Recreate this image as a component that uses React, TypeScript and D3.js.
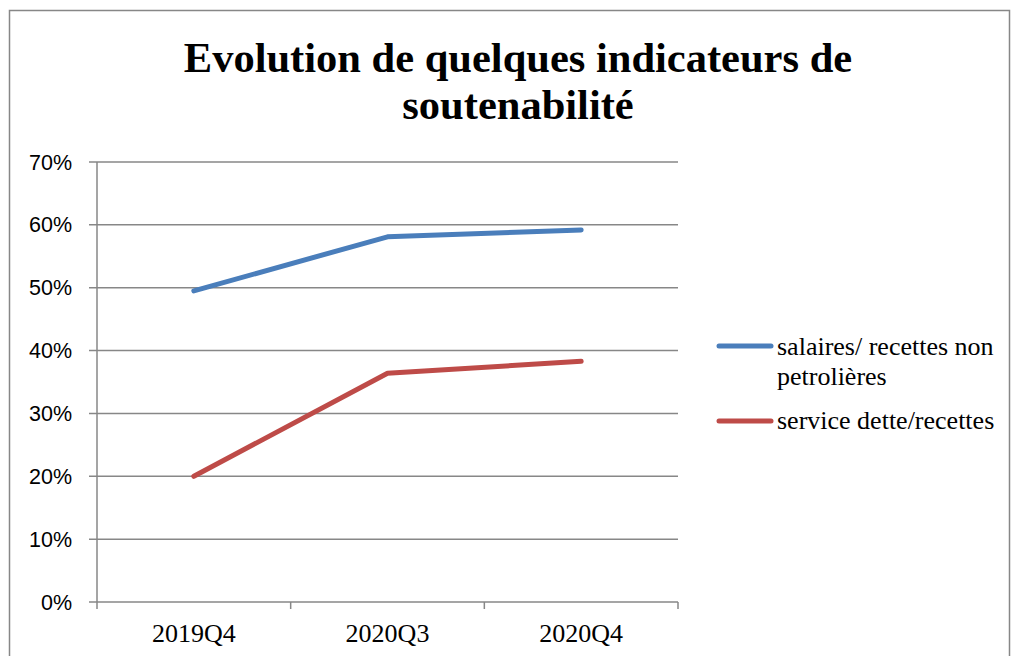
import React from 'react'
import * as d3 from 'd3'

// categories and series
const categories = ['2019Q4', '2020Q3', '2020Q4']
const salaires = [0.495, 0.581, 0.592]
const serviceDette = [0.20, 0.364, 0.383]
const yTicks = [0, 0.1, 0.2, 0.3, 0.4, 0.5, 0.6, 0.7]
const seriesNames = ['salaires/ recettes non petrolières', 'service dette/recettes']

const App = () => {
    const width = 1011
        , height = 656
    const plot = { left: 97, right: 678, top: 162, bottom: 602 }

    const xBand = d3.scaleBand().domain(categories).range([plot.left, plot.right]).padding(0)
    const xScale = (c: string) => (xBand(c) as number) + xBand.bandwidth() / 2
    const yScale = d3.scaleLinear().domain([0, 0.7]).range([plot.bottom, plot.top])

    const line = d3.line<number>()
        .x((d, i) => xScale(categories[i]))
        .y(d => yScale(d))

    const series = [
        { name: seriesNames[0], values: salaires, color: '#4A7EBB' },
        { name: seriesNames[1], values: serviceDette, color: '#BE4B48' },
    ]

    const grid = '#878787'
    const xBoundaries = [...categories.map(c => xBand(c) as number), plot.right]

    return (
        <div style={{ position: 'absolute', left: 0, top: 0 }}>
            <svg width={width} height={height} style={{ display: 'block', background: '#fff' }}>
                {/* outer border */}
                <rect x={9.5} y={10.5} width={1000} height={700} fill="none" stroke={grid} strokeWidth={1.5} />

                {/* title */}
                <text x={518} y={72} textAnchor="middle" fontFamily="'Liberation Serif', 'Times New Roman', serif"
                    fontWeight="bold" fontSize={42.5}>Evolution de quelques indicateurs de</text>
                <text x={518} y={119} textAnchor="middle" fontFamily="'Liberation Serif', 'Times New Roman', serif"
                    fontWeight="bold" fontSize={42.5}>soutenabilité</text>

                {/* gridlines + y axis */}
                {yTicks.map(t => (
                    <g key={t}>
                        <line x1={plot.left - 8} x2={plot.right} y1={yScale(t)} y2={yScale(t)} stroke={grid} strokeWidth={1.5} />
                        <text x={72} y={yScale(t)} dy="0.35em" textAnchor="end"
                            fontFamily="'Liberation Sans', Arial, sans-serif" fontSize={21.5}>{Math.round(t * 100)}%</text>
                    </g>
                ))}
                <line x1={plot.left} x2={plot.left} y1={plot.top} y2={plot.bottom} stroke={grid} strokeWidth={1.5} />

                {/* x axis ticks + labels */}
                {xBoundaries.map((x, i) => (
                    <line key={i} x1={x} x2={x} y1={plot.bottom} y2={plot.bottom + 7} stroke={grid} strokeWidth={1.5} />
                ))}
                {categories.map(c => (
                    <text key={c} x={xScale(c)} y={642} textAnchor="middle"
                        fontFamily="'Liberation Serif', 'Times New Roman', serif" fontSize={26}>{c}</text>
                ))}

                {/* lines */}
                {series.map(s => (
                    <path key={s.name} d={line(s.values) || ''} fill="none" stroke={s.color}
                        strokeWidth={5} strokeLinecap="round" strokeLinejoin="round" />
                ))}

                {/* legend */}
                <line x1={719} x2={771} y1={346} y2={346} stroke={series[0].color} strokeWidth={5} strokeLinecap="round" />
                <text x={777} y={355} fontFamily="'Liberation Serif', 'Times New Roman', serif" fontSize={26}>salaires/ recettes non</text>
                <text x={777} y={385} fontFamily="'Liberation Serif', 'Times New Roman', serif" fontSize={26}>petrolières</text>
                <line x1={719} x2={771} y1={421} y2={421} stroke={series[1].color} strokeWidth={5} strokeLinecap="round" />
                <text x={777} y={429} fontFamily="'Liberation Serif', 'Times New Roman', serif" fontSize={26}>{series[1].name}</text>
            </svg>
        </div>
    )
}
export default App
